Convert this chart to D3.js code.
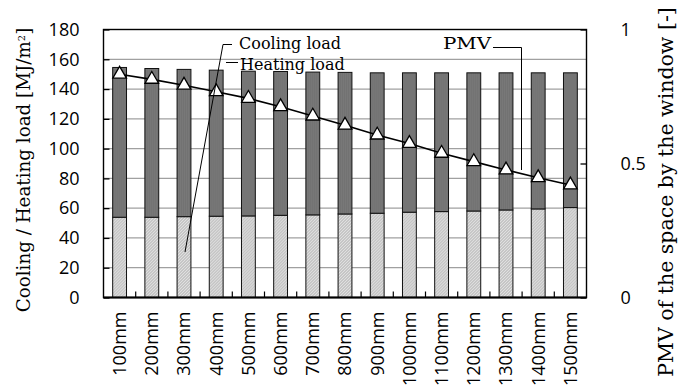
<html>
  <head>
    <style>
      body { margin: 0; background: #fff; }
      .tick text { font-family: "Open Sans", sans-serif; }
    </style>
  </head>
  <body>
    <script src="https://d3js.org/d3.v7.min.js"></script>
    <script>
    // chart data
    var categories = ["100mm","200mm","300mm","400mm","500mm","600mm","700mm","800mm","900mm","1000mm","1100mm","1200mm","1300mm","1400mm","1500mm"];
    var coolingLoad = [53.9, 53.9, 54.3, 54.6, 54.8, 55.2, 55.5, 56.1, 56.6, 57.3, 57.7, 58.1, 58.8, 59.5, 60.4];
    var heatingLoad = [100.6, 99.9, 98.9, 98.1, 97.2, 96.6, 95.9, 95.1, 94.3, 93.6, 93.2, 92.8, 92.1, 91.4, 90.5];
    var pmv = [0.833, 0.814, 0.792, 0.768, 0.743, 0.712, 0.677, 0.643, 0.606, 0.575, 0.538, 0.507, 0.476, 0.447, 0.42];
    var leftTicks = [0, 20, 40, 60, 80, 100, 120, 140, 160, 180];
    var rightTicks = [0, 0.5, 1];

    var W = 681, H = 389;
    var margin = {left: 103.5, top: 29.5, right: 94.5, bottom: 91.5};
    var w = W - margin.left - margin.right, h = H - margin.top - margin.bottom;

    var svg = d3.select("body").append("svg")
        .attr("width", W).attr("height", H);

    // fill textures
    var defs = svg.append("defs");
    var pd = defs.append("pattern").attr("id", "dark").attr("patternUnits", "userSpaceOnUse")
        .attr("width", 2).attr("height", 2);
    pd.append("rect").attr("width", 2).attr("height", 2).attr("fill", "#828282");
    pd.append("rect").attr("width", 1).attr("height", 1).attr("fill", "#626262");
    pd.append("rect").attr("x", 1).attr("y", 1).attr("width", 1).attr("height", 1).attr("fill", "#6e6e6e");
    var pl = defs.append("pattern").attr("id", "light").attr("patternUnits", "userSpaceOnUse")
        .attr("width", 3).attr("height", 3);
    pl.append("rect").attr("width", 3).attr("height", 3).attr("fill", "#e2e2e2");
    pl.append("path").attr("d", "M0,3 L3,0 M-1,1 L1,-1 M2,4 L4,2").attr("stroke", "#a8a8a8").attr("stroke-width", 1);

    var g = svg.append("g").attr("transform", "translate(" + margin.left + "," + margin.top + ")");

    var x = d3.scaleBand().domain(categories).range([0, w]).padding(0);
    var y = d3.scaleLinear().domain([0, 180]).range([h, 0]);
    var y2 = d3.scaleLinear().domain([0, 1]).range([h, 0]);
    var barW = x.bandwidth() * 0.43;

    // gridlines
    g.selectAll(".grid").data(leftTicks.slice(1, -1)).enter().append("line")
        .attr("x1", 0).attr("x2", w)
        .attr("y1", function(d) { return y(d); }).attr("y2", function(d) { return y(d); })
        .attr("stroke", "#a0a0a0").attr("stroke-width", 1.3);

    // stacked bars
    var bars = g.selectAll(".bar").data(categories).enter().append("g")
        .attr("transform", function(d) { return "translate(" + (x(d) + (x.bandwidth() - barW) / 2) + ",0)"; });
    bars.append("rect")
        .attr("y", function(d, i) { return y(coolingLoad[i]); })
        .attr("height", function(d, i) { return h - y(coolingLoad[i]); })
        .attr("width", barW).attr("fill", "url(#light)").attr("stroke", "#111").attr("stroke-width", 1);
    bars.append("rect")
        .attr("y", function(d, i) { return y(coolingLoad[i] + heatingLoad[i]); })
        .attr("height", function(d, i) { return y(coolingLoad[i]) - y(coolingLoad[i] + heatingLoad[i]); })
        .attr("width", barW).attr("fill", "url(#dark)").attr("stroke", "#111").attr("stroke-width", 1);

    // axes
    var yAxis = d3.axisLeft(y).tickValues(leftTicks).tickSizeInner(-6).tickSizeOuter(0).tickPadding(24);
    var ya = g.append("g").call(yAxis);
    var y2Axis = d3.axisRight(y2).tickValues(rightTicks).tickSizeInner(-6).tickSizeOuter(0)
        .tickPadding(34).tickFormat(function(d) { return d === 0.5 ? "0.5" : d; });
    var ya2 = g.append("g").attr("transform", "translate(" + w + ",0)").call(y2Axis);
    var xa = g.append("g").attr("transform", "translate(0," + h + ")")
        .call(d3.axisBottom(x).tickSize(0).tickPadding(14));
    [ya, ya2, xa].forEach(function(a) {
      a.select(".domain").remove();
      a.selectAll("line").attr("stroke", "#000").attr("stroke-width", 1.3);
      a.selectAll("text").attr("font-size", 18).attr("fill", "#000");
    });
    xa.selectAll("text")
        .attr("transform", "rotate(-90)")
        .attr("text-anchor", "end")
        .attr("x", -14).attr("y", 0).attr("dy", "0.36em");

    // category boundary ticks on the bottom
    g.selectAll(".xt").data(categories.slice(1)).enter().append("line")
        .attr("x1", function(d) { return x(d); }).attr("x2", function(d) { return x(d); })
        .attr("y1", h).attr("y2", h - 6).attr("stroke", "#000").attr("stroke-width", 1.2);

    // plot frame
    g.append("rect").attr("width", w).attr("height", h)
        .attr("fill", "none").attr("stroke", "#000").attr("stroke-width", 1.4);
    g.append("line").attr("x1", 0).attr("x2", w).attr("y1", h).attr("y2", h)
        .attr("stroke", "#000").attr("stroke-width", 2.2);

    // PMV line with triangle markers
    var cx = function(i) { return x(categories[i]) + x.bandwidth() / 2; };
    g.append("path").datum(pmv)
        .attr("d", d3.line().x(function(d, i) { return cx(i); }).y(function(d) { return y2(d); }))
        .attr("fill", "none").attr("stroke", "#000").attr("stroke-width", 1.6);
    g.selectAll(".mk").data(pmv).enter().append("path")
        .attr("d", d3.symbol().type(d3.symbolTriangle).size(80))
        .attr("transform", function(d, i) { return "translate(" + cx(i) + "," + y2(d) + ")"; })
        .attr("fill", "#fff").attr("stroke", "#000").attr("stroke-width", 1.3);

    // annotations (page coordinates)
    var serif = "'DejaVu Serif', serif";
    svg.append("path").attr("d", "M232,44.5 L223,44.5 L185,252").attr("fill", "none").attr("stroke", "#000").attr("stroke-width", 1);
    svg.append("path").attr("d", "M238,62.5 L226,62.5").attr("fill", "none").attr("stroke", "#000").attr("stroke-width", 1);
    svg.append("path").attr("d", "M493,47.5 L521.5,47.5 L521.5,170").attr("fill", "none").attr("stroke", "#000").attr("stroke-width", 1);
    svg.append("text").attr("x", 239).attr("y", 48.5).attr("font-family", serif).attr("font-size", 16).text("Cooling load");
    svg.append("text").attr("x", 240).attr("y", 69.5).attr("font-family", serif).attr("font-size", 16).text("Heating load");
    svg.append("text").attr("x", 443).attr("y", 48.5).attr("font-family", serif).attr("font-size", 16)
        .attr("textLength", 48).attr("lengthAdjust", "spacingAndGlyphs").text("PMV");

    // axis titles
    var lt = svg.append("text").attr("transform", "translate(30,170) rotate(-90)")
        .attr("text-anchor", "middle").attr("font-family", serif).attr("font-size", 18.3);
    lt.append("tspan").text("Cooling / Heating load [MJ/m");
    lt.append("tspan").attr("font-size", 10).attr("baseline-shift", "55%").text("2");
    lt.append("tspan").text("]");
    svg.append("text").attr("transform", "translate(673,192) rotate(-90)")
        .attr("text-anchor", "middle").attr("font-family", serif).attr("font-size", 20.5)
        .text("PMV of the space by the window [-]");
    </script>
  </body>
</html>
